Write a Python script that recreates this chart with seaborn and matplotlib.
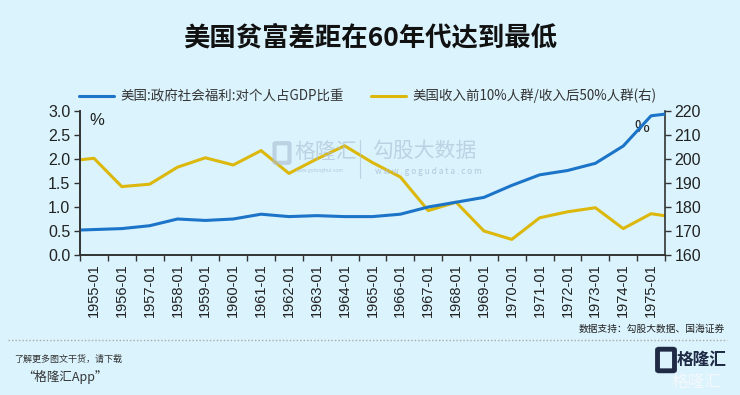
import numpy as np
import pandas as pd
import matplotlib.pyplot as plt
import seaborn as sns
from matplotlib.lines import Line2D
from matplotlib.patches import FancyBboxPatch

# annual values (1954 and 1976 only show as the clipped ends)
years = list(range(1954, 1977))
welfare = [0.51, 0.53, 0.55, 0.61, 0.75, 0.72, 0.75, 0.85, 0.80, 0.82, 0.80,
           0.80, 0.85, 1.00, 1.10, 1.20, 1.45, 1.67, 1.76, 1.91, 2.27, 2.90, 2.97]
ratio = [199.0, 200.3, 188.5, 189.5, 196.6, 200.5, 197.5, 203.5, 194.0, 200.0,
         205.5, 198.5, 192.5, 178.5, 182.0, 170.0, 166.5, 175.5, 178.0, 179.7,
         171.0, 177.2, 175.5]
tick_labels = [f"{y}-01" for y in range(1955, 1976)]
left_ticks = [0.0, 0.5, 1.0, 1.5, 2.0, 2.5, 3.0]
right_ticks = [160, 170, 180, 190, 200, 210, 220]

name_blue = "美国:政府社会福利:对个人占GDP比重"
name_yellow = "美国收入前10%人群/收入后50%人群(右)"

bg = "#DAF3FD"
blue = "#1C74C9"
yellow = "#DDB80C"
dark = "#333333"
mark = "#A9BDD3"

sns.set_theme(style="ticks")
plt.rcParams["font.family"] = ["Noto Sans CJK SC", "DejaVu Sans"]
num_font = ["Liberation Sans", "DejaVu Sans"]

df = pd.DataFrame({"year": years, "welfare": welfare, "ratio": ratio})
df["pos"] = df["year"] - 1955 + 0.5

fig = plt.figure(figsize=(7.4, 3.95), dpi=100, facecolor=bg)
ax = fig.add_axes([80 / 740, 1 - 255 / 395, 585 / 740, 144 / 395])

sns.lineplot(data=df, x="pos", y="welfare", ax=ax, color=blue, lw=2.2, legend=False)
ax2 = ax.twinx()
sns.lineplot(data=df, x="pos", y="ratio", ax=ax2, color=yellow, lw=2.2, legend=False)
ax2.set_zorder(ax.get_zorder() - 1)
ax.patch.set_visible(False)
ax2.patch.set_facecolor(bg)

ax.set_xlim(0, 21)
ax.set_ylim(0, 3.0)
ax2.set_ylim(160, 220)
ax.set_xlabel("")
ax.set_ylabel("")
ax2.set_ylabel("")

centers = np.arange(len(tick_labels)) + 0.5
ax.set_xticks(centers)
ax.set_xticklabels(tick_labels, rotation=90, fontsize=10.5, color="#222222", family=num_font)
ax.set_xticks(np.arange(0, 22), minor=True)
ax.tick_params(axis="x", which="major", length=0, pad=6)
ax.tick_params(axis="x", which="minor", length=4, width=1, color=dark)

ax.set_yticks(left_ticks)
ax.set_yticklabels([f"{v:.1f}" for v in left_ticks], fontsize=11.5, color="#222222", family=num_font)
ax.tick_params(axis="y", length=4, width=1, color=dark, pad=3)
ax2.set_yticks(right_ticks)
ax2.set_yticklabels([str(v) for v in right_ticks], fontsize=11.5, color="#222222", family=num_font)
ax2.tick_params(axis="y", length=4, width=1, color=dark, pad=3)

for a in (ax, ax2):
    a.spines["top"].set_visible(False)
    for s in ("left", "right", "bottom"):
        a.spines[s].set_color(dark)
        a.spines[s].set_linewidth(1.2)
ax.spines["right"].set_visible(False)

ax.text(0.35, 2.8, "%", fontsize=12, color="#222222", va="center", family=num_font)
ax2.text(19.9, 213.0, "%", fontsize=12, color="#222222", va="center", family=num_font)

# watermarks
fig.add_artist(FancyBboxPatch((276 / 740, 1 - 162 / 395), 12 / 740, 18 / 395,
                              boxstyle="round,pad=0.002", fc="none", ec=mark,
                              lw=3, alpha=0.6))
fig.text(294 / 740, 1 - 152 / 395, "格隆汇", fontsize=15, color=mark, alpha=0.6, va="center")
fig.text(296 / 740, 1 - 170 / 395, "www.golonghui.com", fontsize=3.5, color=mark,
         alpha=0.8, va="center")
fig.add_artist(Line2D([360 / 740, 360 / 740], [1 - 140 / 395, 1 - 178 / 395],
                      color=mark, lw=0.8, alpha=0.6))
fig.text(372 / 740, 1 - 151 / 395, "勾股大数据", fontsize=15, color=mark, alpha=0.6, va="center")
fig.text(375 / 740, 1 - 172 / 395, "w w w . g o g u d a t a . c o m", fontsize=6,
         color=mark, alpha=0.8, va="center")

fig.text(0.5, 1 - 38 / 395, "美国贫富差距在60年代达到最低", ha="center", va="center",
         fontsize=19, fontweight="bold", color="#111111")

handles = [Line2D([], [], color=blue, lw=2.2), Line2D([], [], color=yellow, lw=2.2)]
fig.legend(handles, [name_blue, name_yellow], loc="center", ncol=2,
           bbox_to_anchor=(0.497, 1 - 96 / 395), frameon=False, fontsize=9.7,
           handlelength=2.6, columnspacing=2.0, handletextpad=0.5,
           labelcolor="#333333")

fig.text(725 / 740, 1 - 329 / 395, "数据支持：勾股大数据、国海证券", ha="right",
         va="center", fontsize=7, color="#222222")
fig.add_artist(Line2D([8 / 740, 727 / 740], [1 - 340 / 395, 1 - 340 / 395],
                      color="#AAAAAA", lw=1, ls=(0, (1, 1.5))))
fig.text(14 / 740, 1 - 359 / 395, "了解更多图文干货，请下载", fontsize=6.5,
         color="#333333", style="italic", va="center")
fig.text(22 / 740, 1 - 377 / 395, "“格隆汇App”", fontsize=9, color="#333333",
         style="italic", va="center")

# corner logo
fig.add_artist(FancyBboxPatch((659 / 740, 1 - 370 / 395), 14 / 740, 20 / 395,
                              boxstyle="round,pad=0.002", fc="none", ec="#1F2A44", lw=3.5))
fig.text(677 / 740, 1 - 360 / 395, "格隆汇", fontsize=12, fontweight="bold",
         color="#1F2A44", va="center")
fig.text(672 / 740, 1 - 382 / 395, "格隆汇", fontsize=12, color="#F4F8FC", va="center")

fig.savefig("out.png", dpi=100, facecolor=bg)
